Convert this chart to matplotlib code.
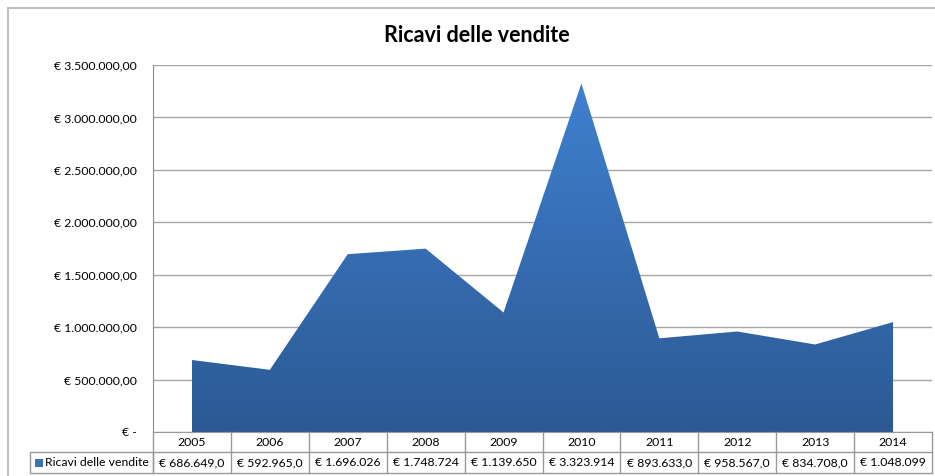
import numpy as np
import matplotlib.pyplot as plt
import matplotlib.transforms as mtransforms
from matplotlib.patches import Polygon, Rectangle
from matplotlib.lines import Line2D
from matplotlib.colors import LinearSegmentedColormap

plt.rcParams['font.family'] = ['Lato', 'DejaVu Sans']

# dati
serie = 'Ricavi delle vendite'
anni = ['2005', '2006', '2007', '2008', '2009', '2010', '2011', '2012', '2013', '2014']
ricavi = [686649.0, 592965.0, 1696026, 1748724, 1139650, 3323914, 893633.0, 958567.0, 834708.0, 1048099]
etichette_tabella = ['€ 686.649,0', '€ 592.965,0', '€ 1.696.026', '€ 1.748.724', '€ 1.139.650',
                     '€ 3.323.914', '€ 893.633,0', '€ 958.567,0', '€ 834.708,0', '€ 1.048.099']
yticks = [0, 500000, 1000000, 1500000, 2000000, 2500000, 3000000, 3500000]
ytick_labels = ['€ -', '€ 500.000,00', '€ 1.000.000,00', '€ 1.500.000,00', '€ 2.000.000,00',
                '€ 2.500.000,00', '€ 3.000.000,00', '€ 3.500.000,00']

W, H = 935, 476
fy = lambda py: 1 - py / H
fx = lambda px: px / W
fs = 8.8

fig = plt.figure(figsize=(W / 100, H / 100), dpi=100)
ax = fig.add_axes([fx(153), fy(432), fx(932) - fx(153), fy(65) - fy(432)])

x = np.arange(len(anni))
verts = list(zip(x, ricavi)) + [(x[-1], 0), (x[0], 0)]
area = Polygon(verts, closed=True, facecolor='none', edgecolor='none')
ax.add_patch(area)

# riempimento sfumato come in Excel
cmap = LinearSegmentedColormap.from_list('blu', ['#2C5993', '#3F80CF'])
grad = np.linspace(0, 1, 256).reshape(-1, 1)
im = ax.imshow(grad, extent=[x[0], x[-1], 0, max(ricavi)], origin='lower',
               cmap=cmap, aspect='auto', zorder=2, interpolation='bilinear')
im.set_clip_path(area)

ax.set_xlim(-0.5, len(anni) - 0.5)
ax.set_ylim(0, 3500000)
ax.set_yticks(yticks)
ax.set_yticklabels(ytick_labels)
ax.set_xticks([])
ax.yaxis.grid(True, color='#A6A6A6', lw=1)
ax.set_axisbelow(True)
ax.tick_params(axis='y', length=0, pad=11.5, labelsize=fs)
for s in ['top', 'right']:
    ax.spines[s].set_visible(False)
ax.spines['left'].set_color('#8C8C8C')
ax.spines['bottom'].set_color('#9A9A9A')

# tabella dati sotto il grafico
tr = mtransforms.blended_transform_factory(ax.transData, fig.transFigure)
lc = '#9A9A9A'
y_top, y_mid, y_bot = fy(432), fy(452), fy(473)
for i in range(len(anni) + 1):
    fig.add_artist(Line2D([i - 0.5, i - 0.5], [y_top, y_bot], transform=tr, color=lc, lw=1))
for yy in [y_mid, y_bot]:
    fig.add_artist(Line2D([-0.5, len(anni) - 0.5], [yy, yy], transform=tr, color=lc, lw=1))
fig.add_artist(Rectangle((fx(30), y_bot), fx(153) - fx(30), y_mid - y_bot,
                         transform=fig.transFigure, facecolor='none', edgecolor=lc, lw=1))
for i, (a, v) in enumerate(zip(anni, etichette_tabella)):
    fig.text(i, (y_top + y_mid) / 2, a, transform=tr, ha='center', va='center', fontsize=fs)
    fig.text(i, (y_mid + y_bot) / 2, v, transform=tr, ha='center', va='center', fontsize=fs)
fig.add_artist(Rectangle((fx(35), fy(467)), fx(8), fy(459) - fy(467),
                         transform=fig.transFigure, facecolor='#3A72BA', edgecolor='none'))
fig.text(fx(45), (y_mid + y_bot) / 2, serie, ha='left', va='center', fontsize=fs)

# titolo e cornice
fig.text(fx(477), fy(35), serie, ha='center', va='center', fontsize=15.5, weight='bold')
fig.add_artist(Rectangle((fx(8), -0.1), 1.2, fy(8) + 0.1, transform=fig.transFigure,
                         facecolor='none', edgecolor='#BFBFBF', lw=1.5))

fig.savefig('out.png', dpi=100)
